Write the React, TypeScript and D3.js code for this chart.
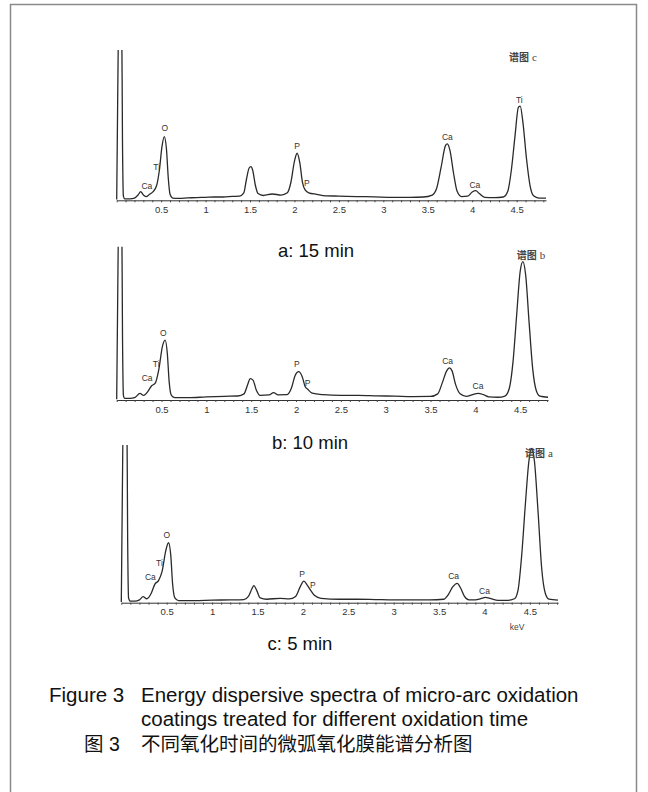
import { useEffect, useRef } from "react";
import * as d3 from "d3";

// energy (keV) / counts (arbitrary, 0-100 of panel height)
const energyTicks = [0.5, 1, 1.5, 2, 2.5, 3, 3.5, 4, 4.5];
const spectrumNames = ["谱图 c", "谱图 b", "谱图 a"];
const captions = ["a: 15 min", "b: 10 min", "c: 5 min"];

const spectrumC: [number, number][] = [
  [0, 0.5], [0.01, 60], [0.025, 130], [0.055, 130], [0.065, 40], [0.075, 3], [0.09, 1],
  [0.15, 1], [0.2, 1.5], [0.24, 3.5], [0.27, 5.8], [0.3, 3.5], [0.33, 2.4], [0.37, 4],
  [0.41, 5.8], [0.45, 10], [0.48, 20], [0.51, 36], [0.535, 42.4], [0.56, 34], [0.58, 15],
  [0.6, 4], [0.63, 1.5], [0.7, 1.3], [0.8, 1.6], [0.9, 1.8], [1.0, 2], [1.1, 2.2],
  [1.2, 2.2], [1.3, 2.6], [1.38, 2.8], [1.43, 5], [1.46, 14], [1.49, 21.5], [1.51, 22.4],
  [1.53, 20], [1.56, 10], [1.59, 4.5], [1.65, 3.2], [1.75, 4.2], [1.85, 3.5], [1.92, 5],
  [1.96, 12], [2.0, 26], [2.03, 31.3], [2.06, 25], [2.09, 12], [2.12, 6.9], [2.16, 5],
  [2.25, 4], [2.35, 3], [2.5, 2.8], [2.7, 2.5], [2.9, 2.3], [3.1, 2], [3.3, 2], [3.45, 2.2],
  [3.55, 3.5], [3.6, 8], [3.65, 22], [3.7, 36.5], [3.72, 37.5], [3.75, 33], [3.79, 18],
  [3.83, 6], [3.88, 2.5], [3.95, 2.8], [4.0, 5.5], [4.04, 6.4], [4.08, 4.5], [4.14, 2],
  [4.25, 1.8], [4.35, 2.2], [4.4, 6], [4.44, 20], [4.48, 42], [4.52, 62], [4.54, 62.7],
  [4.57, 52], [4.61, 28], [4.65, 10], [4.69, 3], [4.75, 1.5], [4.83, 1.5],
];

const spectrumB: [number, number][] = [
  [0, 0.5], [0.01, 60], [0.025, 130], [0.055, 130], [0.065, 40], [0.075, 3], [0.09, 1],
  [0.15, 1], [0.2, 1.5], [0.26, 4.3], [0.3, 3], [0.34, 5], [0.39, 9.3], [0.43, 11],
  [0.47, 20], [0.51, 35], [0.54, 39], [0.565, 30], [0.585, 12], [0.61, 3], [0.65, 1.5],
  [0.8, 1.5], [1.0, 2], [1.2, 2.4], [1.35, 2.6], [1.42, 4], [1.46, 10], [1.49, 14],
  [1.52, 13], [1.56, 6], [1.6, 3], [1.7, 3.3], [1.75, 4.8], [1.8, 3.4], [1.9, 3.5],
  [1.95, 8], [1.99, 16], [2.03, 18.5], [2.07, 15], [2.1, 9], [2.13, 7], [2.18, 4.5],
  [2.3, 3.5], [2.5, 3], [2.7, 3], [2.9, 2.7], [3.1, 2.5], [3.3, 2.2], [3.5, 2.3],
  [3.58, 4], [3.63, 11], [3.68, 19], [3.71, 21], [3.74, 19], [3.78, 10], [3.83, 4],
  [3.9, 2.3], [3.97, 3.5], [4.03, 4.3], [4.09, 3.5], [4.15, 2], [4.25, 1.8], [4.33, 2.6],
  [4.38, 8], [4.42, 25], [4.46, 55], [4.5, 84], [4.53, 90.2], [4.56, 82], [4.6, 50],
  [4.64, 20], [4.68, 6], [4.72, 2.5], [4.81, 1.8],
];

const spectrumA: [number, number][] = [
  [0, 0.5], [0.01, 60], [0.025, 130], [0.06, 130], [0.07, 40], [0.08, 3], [0.1, 1],
  [0.15, 1], [0.2, 1.8], [0.24, 3.8], [0.28, 2.5], [0.33, 6], [0.37, 11.8], [0.41, 14],
  [0.45, 20], [0.49, 33], [0.52, 38], [0.545, 30], [0.565, 12], [0.59, 3], [0.63, 1.3],
  [0.8, 1.3], [1.0, 1.6], [1.2, 1.8], [1.35, 2], [1.4, 4], [1.44, 9], [1.46, 10.8],
  [1.49, 8], [1.53, 3], [1.6, 2.2], [1.75, 2.8], [1.85, 2.4], [1.92, 4], [1.97, 10],
  [2.01, 13.7], [2.05, 11], [2.09, 7.5], [2.13, 4.5], [2.2, 2.8], [2.4, 2.2], [2.6, 2.2],
  [2.8, 2], [3.0, 1.8], [3.2, 1.8], [3.4, 1.8], [3.55, 2.2], [3.6, 5], [3.65, 10],
  [3.7, 12.3], [3.74, 9], [3.78, 4], [3.83, 1.8], [3.9, 1.8], [3.96, 2.6], [4.01, 3.4],
  [4.07, 2.6], [4.15, 1.5], [4.25, 1.5], [4.33, 2.5], [4.37, 8], [4.41, 30], [4.45, 62],
  [4.49, 90], [4.52, 97.9], [4.55, 90], [4.59, 58], [4.63, 22], [4.67, 6], [4.71, 2.2],
  [4.81, 1.6],
];

// peak labels: element, keV, counts
const labelsC: [string, number, number][] = [
  ["Ca", 0.34, 9.5], ["Ti", 0.45, 22], ["O", 0.54, 48], ["P", 2.03, 36], ["P", 2.14, 11.5],
  ["Ca", 3.72, 42], ["Ca", 4.03, 10.2], ["Ti", 4.53, 67],
];
const labelsB: [string, number, number][] = [
  ["Ca", 0.34, 14.4], ["Ti", 0.44, 23.5], ["O", 0.52, 43.7], ["P", 2.01, 23.5], ["P", 2.13, 11],
  ["Ca", 3.69, 25.4], ["Ca", 4.03, 9.1],
];
const labelsA: [string, number, number][] = [
  ["Ca", 0.32, 16.3], ["Ti", 0.42, 25], ["O", 0.5, 43], ["P", 1.99, 18.2], ["P", 2.11, 11.2],
  ["Ca", 3.66, 16.9], ["Ca", 4.0, 7.4],
];

const spectra = [spectrumC, spectrumB, spectrumA];
const peakLabels = [labelsC, labelsB, labelsA];
const maxEnergy = [4.83, 4.81, 4.81];

const font = "Liberation Sans, Arial, sans-serif";

// page layout of the three panels
const layout = [
  { x0: 116.7, x1: 546, top: 50, axis: 200.3, cap: [316, 257], name: [523, 55] },
  { x0: 116.7, x1: 548, top: 246.7, axis: 400, cap: [310, 449], name: [531, 253] },
  { x0: 121.3, x1: 558, top: 445, axis: 602.7, cap: [300, 650], name: [539, 451] },
];

export default function App() {
  const svgRef = useRef<SVGSVGElement>(null);

  useEffect(() => {
    const svg = d3.select(svgRef.current);
    svg.selectAll("*").remove();

    svg
      .append("rect")
      .attr("x", 10.5)
      .attr("y", 4.5)
      .attr("width", 626)
      .attr("height", 820)
      .attr("fill", "#fff")
      .attr("stroke", "#8a8a8a")
      .attr("stroke-width", 1.5);

    spectra.forEach((data, i) => {
      const L = layout[i];
      const xScale = d3.scaleLinear().domain([0, maxEnergy[i]]).range([L.x0, L.x1]);
      const yScale = d3.scaleLinear().domain([0, 100]).range([L.axis, L.top]);
      const g = svg.append("g");

      svg
        .append("clipPath")
        .attr("id", "clip" + i)
        .append("rect")
        .attr("x", L.x0 - 3)
        .attr("y", L.top)
        .attr("width", L.x1 - L.x0 + 6)
        .attr("height", L.axis - L.top + 2);

      const minor = d3.range(0, maxEnergy[i] + 0.001, 0.1);
      const xAxis = d3
        .axisBottom(xScale)
        .tickValues(minor)
        .tickSize(2)
        .tickSizeOuter(0)
        .tickPadding(4)
        .tickFormat((d) => {
          const v = Math.round(+d * 10) / 10;
          return energyTicks.includes(v) ? String(v) : "";
        });
      const ax = g.append("g").attr("transform", `translate(0,${L.axis})`).call(xAxis);
      ax.select(".domain").attr("stroke", "#333").attr("stroke-width", 1);
      ax.selectAll(".tick line").attr("stroke", "#444");
      ax.selectAll(".tick text")
        .attr("font-family", font)
        .attr("font-size", 9.5)
        .attr("fill", "#333");

      const lineGen = d3
        .line<[number, number]>()
        .x((d) => xScale(d[0]))
        .y((d) => yScale(d[1]))
        .curve(d3.curveMonotoneX);

      g.append("path")
        .datum(data)
        .attr("clip-path", `url(#clip${i})`)
        .attr("d", lineGen)
        .attr("fill", "none")
        .attr("stroke", "#2a2a2a")
        .attr("stroke-width", 1.3);

      g.selectAll(".pk")
        .data(peakLabels[i])
        .join("text")
        .attr("x", (d) => xScale(d[1]))
        .attr("y", (d) => yScale(d[2]))
        .attr("dy", "0.35em")
        .attr("text-anchor", "middle")
        .attr("font-family", font)
        .attr("font-size", 8.5)
        .attr("fill", "#333")
        .text((d) => d[0]);

      const nm = g
        .append("text")
        .attr("x", L.name[0])
        .attr("y", L.name[1])
        .attr("dy", "0.35em")
        .attr("text-anchor", "middle")
        .attr("fill", "#444");
      nm.append("tspan")
        .attr("font-family", "Noto Sans CJK SC")
        .attr("font-size", 10)
        .attr("font-weight", "bold")
        .text(spectrumNames[i].split(" ")[0]);
      nm.append("tspan")
        .attr("font-family", "Liberation Serif, serif")
        .attr("font-size", 11)
        .attr("dx", 3)
        .text(spectrumNames[i].split(" ")[1]);

      g.append("text")
        .attr("x", L.cap[0])
        .attr("y", L.cap[1])
        .attr("text-anchor", "middle")
        .attr("font-family", font)
        .attr("font-size", 18.5)
        .attr("fill", "#111")
        .text(captions[i]);
    });

    svg
      .append("text")
      .attr("x", 517)
      .attr("y", 627)
      .attr("dy", "0.35em")
      .attr("text-anchor", "middle")
      .attr("font-family", font)
      .attr("font-size", 8.5)
      .attr("fill", "#444")
      .text("keV");

    const cap = svg
      .append("g")
      .attr("font-family", font)
      .attr("font-size", 20.5)
      .attr("fill", "#111");
    cap.append("text").attr("x", 49).attr("y", 702).text("Figure 3");
    cap.append("text").attr("x", 141).attr("y", 702).text("Energy dispersive spectra of micro-arc oxidation");
    cap.append("text").attr("x", 141).attr("y", 726).text("coatings treated for different oxidation time");
    cap.append("text").attr("x", 84).attr("y", 751)
      .attr("font-family", "Liberation Sans, Noto Sans CJK SC, sans-serif")
      .attr("font-size", 19.5)
      .text("图 3");
    cap.append("text").attr("x", 141).attr("y", 751)
      .attr("font-family", "Noto Sans CJK SC, sans-serif")
      .attr("font-size", 19.5)
      .text("不同氧化时间的微弧氧化膜能谱分析图");
  }, []);

  return (
    <svg
      ref={svgRef}
      width={648}
      height={792}
      style={{ position: "absolute", left: 0, top: 0, background: "#fff" }}
    />
  );
}
